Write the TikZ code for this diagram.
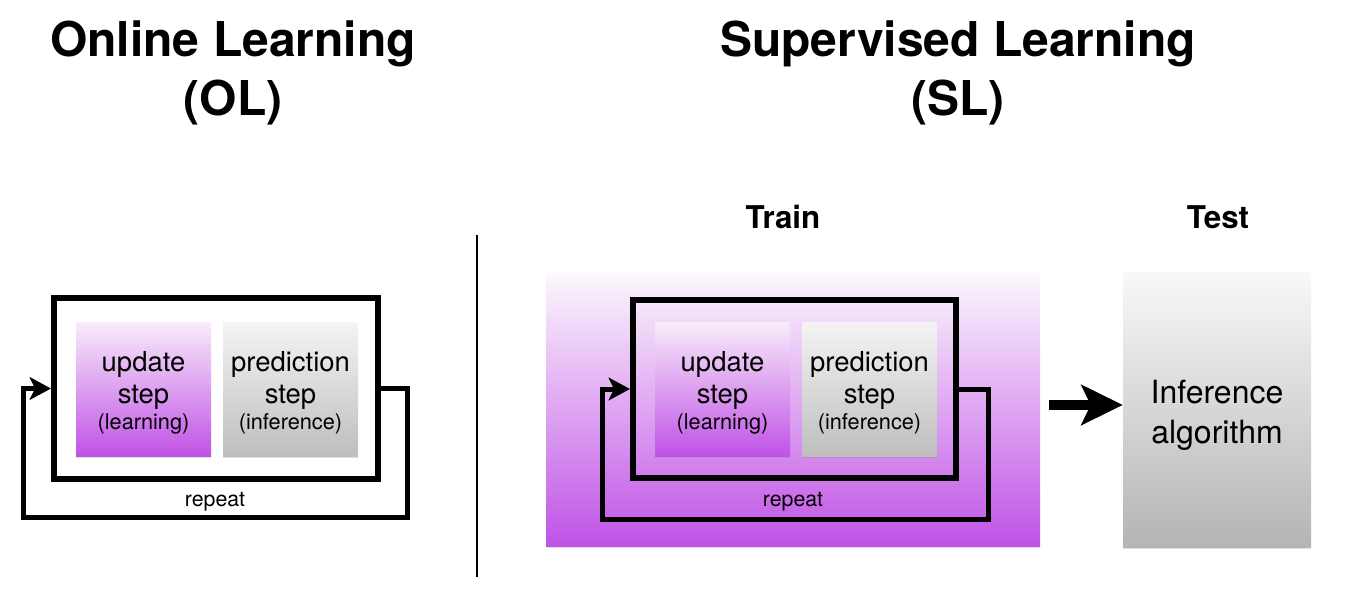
\documentclass[tikz,border=0pt]{standalone}
\usepackage{fontspec}
\setmainfont{TeX Gyre Heros}
\usetikzlibrary{arrows.meta,shadows}
\definecolor{purpB}{RGB}{192,82,230}
\definecolor{purpT}{RGB}{248,236,250}
\definecolor{trainT}{RGB}{252,248,253}
\definecolor{greyT}{RGB}{244,244,244}
\definecolor{greyB}{RGB}{190,190,190}
\begin{document}
\begin{tikzpicture}[x=0.75pt,y=-0.75pt,
  title/.style={font=\fontsize{36}{40}\selectfont\bfseries, anchor=base},
  subtitle/.style={font=\fontsize{23.5}{26}\selectfont\bfseries, anchor=base},
  big/.style={font=\fontsize{20.6}{24}\selectfont, anchor=base},
  small/.style={font=\fontsize{16.3}{19}\selectfont, anchor=base},
  frame/.style={draw=black, line width=4.5pt, inner sep=0pt},
  stepbox/.style={inner sep=0pt, minimum width=135*0.75pt, minimum height=134*0.75pt,
     drop shadow={shadow xshift=0pt, shadow yshift=-1.5pt, opacity=0.25}},
  upd/.style={stepbox, top color=purpT, bottom color=purpB},
  pred/.style={stepbox, top color=greyT, bottom color=greyB},
  loopline/.style={line width=3.75pt, -{Stealth[length=16pt,width=17pt,inset=4pt]}},
]
\useasboundingbox (0,0) rectangle (1348,592);

% titles
\node[title] (t1a) at (233,56) {Online Learning};
\node[title] (t1b) at (233,115) {(OL)};
\node[title] (t2a) at (958,56) {Supervised Learning};
\node[title] (t2b) at (958,115) {(SL)};
\node[subtitle] (train-lbl) at (783,228) {Train};
\node[subtitle] (test-lbl) at (1218,228) {Test};

% divider
\draw[line width=1.5pt] (477,235) -- (477,577);

% ---------- left: online learning ----------
\node[frame, minimum width=324*0.75pt, minimum height=181*0.75pt] (olframe) at (216,388.5) {};
\node[upd] (olupd) at (143.5,389) {};
\node[pred] (olpred) at (290.5,389) {};
\node[big] at (143.5,371) {update};
\node[big] at (143.5,403) {step};
\node[small] at (143.5,429) {(learning)};
\node[big] at (290.5,371) {prediction};
\node[big] at (290.5,403) {step};
\node[small] at (290.5,429) {(inference)};
\coordinate (olA) at (407,517);
\coordinate (olB) at (23,517);
\draw[loopline] (olframe.east) -| (olA) -- (olB) |- (olframe.west);
\node[small, font=\fontsize{16}{19}\selectfont] (olrep) at (215,506) {repeat};

% ---------- right: supervised learning ----------
\node[inner sep=0pt, minimum width=494*0.75pt, minimum height=273*0.75pt,
      top color=trainT, bottom color=purpB,
      drop shadow={shadow xshift=0pt, shadow yshift=-1.5pt, opacity=0.25}] (train) at (793,409.5) {};
\node[frame, minimum width=323*0.75pt, minimum height=178*0.75pt] (slframe) at (794.5,389) {};
\node[upd] (slupd) at (722.5,389) {};
\node[pred] (slpred) at (869.5,389) {};
\node[big] at (722.5,371) {update};
\node[big] at (722.5,403) {step};
\node[small] at (722.5,429) {(learning)};
\node[big] at (869.5,371) {prediction};
\node[big] at (869.5,403) {step};
\node[small] at (869.5,429) {(inference)};
\coordinate (slA) at (988,519);
\coordinate (slB) at (602,519);
\draw[loopline] (slframe.east) -| (slA) -- (slB) |- (slframe.west);
\node[small, font=\fontsize{16}{19}\selectfont] (slrep) at (793,506) {repeat};

% test box
\node[inner sep=0pt, minimum width=188*0.75pt, minimum height=275*0.75pt,
      top color=greyT!60!white, bottom color=greyB!95!black,
      drop shadow={shadow xshift=0pt, shadow yshift=-1.5pt, opacity=0.25}] (test) at (1217,409.5) {};
\node[align=center, font=\fontsize{24}{30}\selectfont] (testtxt) at (1217,415.5) {Inference\\algorithm};

% train -> test arrow
\draw[line width=7.5pt, -{Stealth[length=31pt,width=30pt,inset=7pt]}, shorten <=6.75pt]
  ([yshift=3.4pt]train.east) -- ([yshift=3.4pt]test.west);
\end{tikzpicture}
\end{document}
